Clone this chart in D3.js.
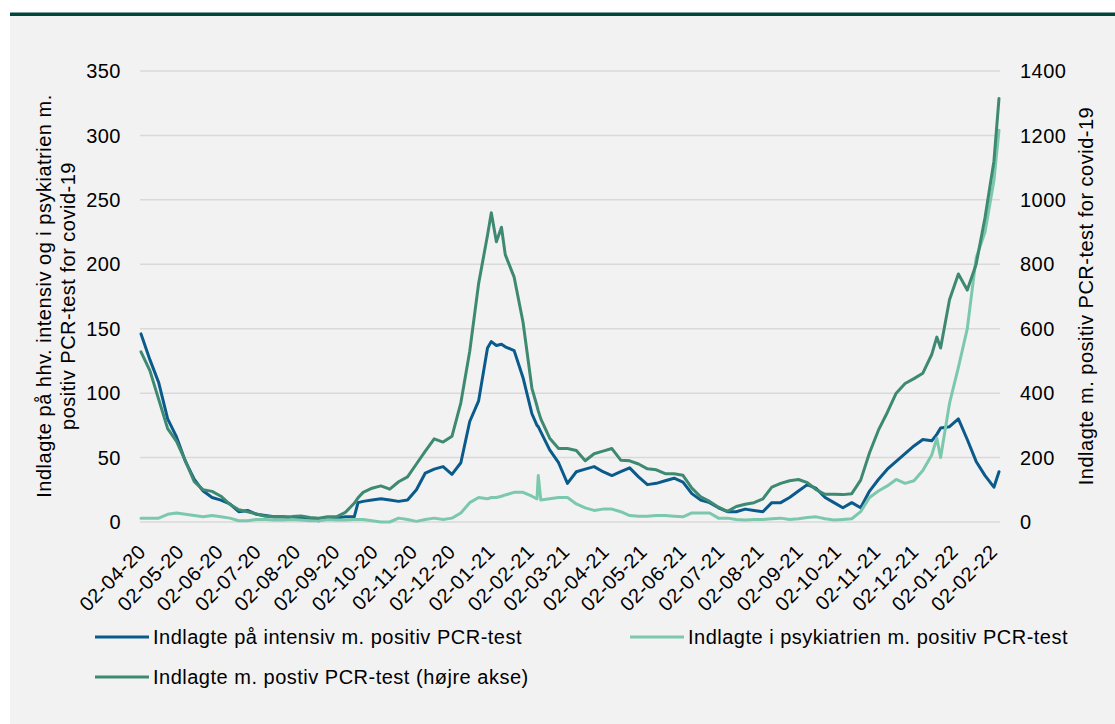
<!DOCTYPE html>
<html><head><meta charset="utf-8">
<script src="https://cdn.jsdelivr.net/npm/d3@7"></script>
<style>
html,body{margin:0;padding:0;background:#fff;}
svg{display:block;font-family:"Liberation Sans",Arial,sans-serif;}
</style></head><body>
<svg id="c" width="1115" height="724"></svg>
<script>
const dates = [
"2020-04-02","2020-04-09","2020-04-16","2020-04-23","2020-04-30","2020-05-07","2020-05-14","2020-05-21","2020-05-28",
"2020-06-04","2020-06-11","2020-06-18","2020-06-25","2020-07-02","2020-07-09","2020-07-16","2020-07-23","2020-07-30",
"2020-08-06","2020-08-13","2020-08-20","2020-08-27","2020-09-03","2020-09-10","2020-09-17","2020-09-20","2020-09-24","2020-10-01",
"2020-10-08","2020-10-15","2020-10-22","2020-10-29","2020-11-05","2020-11-12","2020-11-19","2020-11-26","2020-12-03",
"2020-12-10","2020-12-17","2020-12-24","2020-12-31","2021-01-03","2021-01-07","2021-01-11","2021-01-14","2021-01-21","2021-01-28","2021-02-04",
"2021-02-08","2021-02-09","2021-02-11","2021-02-18","2021-02-25","2021-03-04","2021-03-11","2021-03-18","2021-03-25",
"2021-04-01","2021-04-08","2021-04-15","2021-04-22","2021-04-29","2021-05-06","2021-05-13","2021-05-20","2021-05-27",
"2021-06-03","2021-06-10","2021-06-17","2021-06-24","2021-07-01","2021-07-08","2021-07-15","2021-07-22","2021-07-29",
"2021-08-05","2021-08-12","2021-08-19","2021-08-26","2021-09-02","2021-09-09","2021-09-16","2021-09-23","2021-09-30",
"2021-10-07","2021-10-14","2021-10-21","2021-10-28","2021-11-04","2021-11-11","2021-11-18","2021-11-25","2021-12-02",
"2021-12-09","2021-12-16","2021-12-20","2021-12-23","2021-12-30","2022-01-06","2022-01-13","2022-01-20","2022-01-27","2022-02-03","2022-02-07"];

// Indlagte på intensiv m. positiv PCR-test (left axis)
const intensiv = [
146,126,108,80,66,47,33,24,19,
17,14,8,9,6,5,4,4,3,
3,2,1,3,3,4,4,15,16,17,
18,17,16,17,25,38,41,43,37,
46,78,94,135,140,137,138,136,133,112,84,
75,74,70,56,46,30,39,41,43,
39,36,39,42,35,29,30,32,34,
31,22,17,15,11,8,8,10,9,
8,15,15,19,24,29,26,19,15,
11,15,11,24,33,41,47,53,59,
64,63,68,73,74,80,64,47,36,27,39];

// Indlagte i psykiatrien m. positiv PCR-test (left axis)
const psykiatri = [
3,3,3,6,7,6,5,4,5,
4,3,1,1,2,2,1.5,1.5,2,
1.5,1,1,2,1.5,1.5,2,2,2,1,
0,0,3,2,0.5,2,3,2,3,
7,15,19,18,19,19,20,21,23,23,20,
18,36,17,18,19,19,14,11,9,
10,10,8,5,4.5,4.5,5,5,4.5,
4,7,7,7,3,3,2,1.5,2,
2,2.5,3,2,2.5,3.5,4,2.5,1.5,
2,2.5,8,19,24,28,33,30,32,
40,52,65,50,92,120,150,205,225,265,304];

// Indlagte m. postiv PCR-test (right axis)
const indlagte = [
528,470,380,290,250,190,125,100,95,
80,55,38,32,25,18,16,16,17,
19,14,12,16,16,30,58,75,92,105,
112,102,125,140,180,220,258,248,266,
370,530,740,890,960,870,915,830,760,620,415,
360,345,320,260,228,228,222,190,212,
220,228,192,190,180,165,162,150,150,
145,105,78,64,46,33,48,55,60,
72,108,120,128,132,122,100,86,86,
85,88,130,215,285,340,400,430,445,
462,520,574,540,690,770,720,800,945,1120,1315];

const xTickDates = [
"2020-04-02","2020-05-02","2020-06-02","2020-07-02","2020-08-02","2020-09-02","2020-10-02","2020-11-02",
"2020-12-02","2021-01-02","2021-02-02","2021-03-02","2021-04-02","2021-05-02","2021-06-02","2021-07-02",
"2021-08-02","2021-09-02","2021-10-02","2021-11-02","2021-12-02","2022-01-02","2022-02-02"];
const leftTicks = [0,50,100,150,200,250,300,350];
const rightTicks = [0,200,400,600,800,1000,1200,1400];

const seriesNames = [
  "Indlagte på intensiv m. positiv PCR-test",
  "Indlagte i psykiatrien m. positiv PCR-test",
  "Indlagte m. postiv PCR-test (højre akse)"
];
const leftTitle = ["Indlagte på hhv. intensiv og i psykiatrien m.", "positiv PCR-test for covid-19"];
const rightTitle = "Indlagte m. positiv PCR-test for covid-19";

const colors = {intensiv:"#0b5a8c", psyk:"#7cc8ac", total:"#3e8972"};

const parse = d3.timeParse("%Y-%m-%d");
const fmt = d3.timeFormat("%d-%m-%y");
const D = dates.map(parse);

const svg = d3.select("#c");
const FS = 20;

svg.append("rect").attr("x",10).attr("y",16).attr("width",1105).attr("height",708).attr("fill","#f2f2f2");
svg.append("rect").attr("x",10).attr("y",12.5).attr("width",1105).attr("height",3.5).attr("fill","#00463a");

const x = d3.scaleTime().domain([parse("2020-04-02"), parse("2022-02-07")]).range([141, 999]);
const yL = d3.scaleLinear().domain([0,350]).range([522,71]);
const yR = d3.scaleLinear().domain([0,1400]).range([522,71]);

// gridlines
svg.append("g").selectAll("line").data(leftTicks).join("line")
  .attr("x1",140).attr("x2",1000)
  .attr("y1",d=>yL(d)).attr("y2",d=>yL(d))
  .attr("stroke","#d9d9d9").attr("stroke-width",1.5);

// left tick labels
svg.append("g").selectAll("text").data(leftTicks).join("text")
  .attr("x",121).attr("y",d=>yL(d)).attr("dy","0.36em")
  .attr("text-anchor","end").attr("font-size",FS).attr("letter-spacing",0.5).attr("fill","#000")
  .text(d=>d);

// right tick labels
svg.append("g").selectAll("text").data(rightTicks).join("text")
  .attr("x",1020).attr("y",d=>yR(d)).attr("dy","0.36em")
  .attr("text-anchor","start").attr("font-size",FS).attr("letter-spacing",0.5).attr("fill","#000")
  .text(d=>d);

// x tick labels
svg.append("g").selectAll("text").data(xTickDates.map(parse)).join("text")
  .attr("transform",d=>`translate(${x(d)+1},548) rotate(-45)`)
  .attr("dy","0.36em")
  .attr("text-anchor","end").attr("font-size",FS).attr("letter-spacing",0.5).attr("fill","#000")
  .text(d=>fmt(d));

// axis titles
const lt = svg.append("text").attr("transform","translate(51,296) rotate(-90)")
  .attr("text-anchor","middle").attr("font-size",FS).attr("letter-spacing",0.5).attr("fill","#000");
lt.append("tspan").attr("x",0).attr("y",0).text(leftTitle[0]);
lt.append("tspan").attr("x",0).attr("y",24).text(leftTitle[1]);

svg.append("text").attr("transform","translate(1093,296) rotate(-90)")
  .attr("text-anchor","middle").attr("font-size",FS).attr("letter-spacing",0.5).attr("fill","#000")
  .text(rightTitle);

// lines
const lineL = d3.line().x((d,i)=>x(D[i])).y(d=>yL(d));
const lineR = d3.line().x((d,i)=>x(D[i])).y(d=>yR(d));
const g = svg.append("g").attr("fill","none").attr("stroke-width",3).attr("stroke-linejoin","round").attr("stroke-linecap","round");
g.append("path").attr("d",lineL(intensiv)).attr("stroke",colors.intensiv);
g.append("path").attr("d",lineL(psykiatri)).attr("stroke",colors.psyk);
g.append("path").attr("d",lineR(indlagte)).attr("stroke",colors.total);

// legend
const legend = [
  {name:seriesNames[0], color:colors.intensiv, x:95, y:637},
  {name:seriesNames[1], color:colors.psyk, x:630, y:637},
  {name:seriesNames[2], color:colors.total, x:95, y:677}
];
const lg = svg.append("g").selectAll("g").data(legend).join("g")
  .attr("transform",d=>`translate(${d.x},${d.y})`);
lg.append("line").attr("x1",0).attr("x2",54).attr("y1",0).attr("y2",0)
  .attr("stroke",d=>d.color).attr("stroke-width",3);
lg.append("text").attr("x",58).attr("y",0).attr("dy","0.36em")
  .attr("font-size",FS).attr("letter-spacing",0.5).attr("fill","#000")
  .text(d=>d.name);
</script>
</body></html>
